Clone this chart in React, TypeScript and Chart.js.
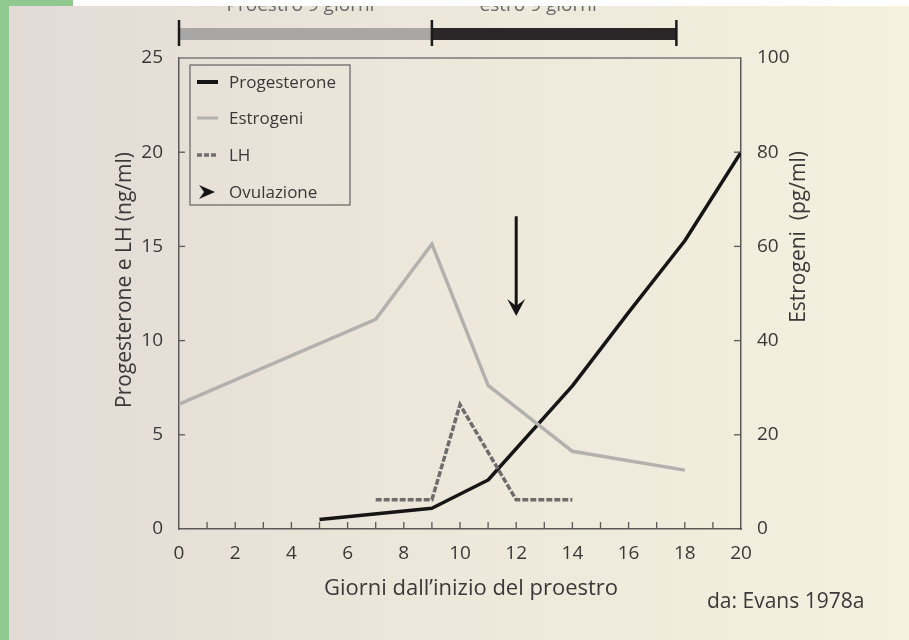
import React, { useEffect, useRef } from 'react';
import { Chart, registerables } from 'chart.js';

Chart.register(...registerables);

// ---- data ----
const PROG_DAYS = [5, 9, 11, 14, 16, 18, 20];
const PROG_VALUES = [0.5, 1.1, 2.6, 7.6, 11.5, 15.3, 20.0]; // ng/ml
const ESTR_DAYS = [0, 7, 9, 11, 14, 18];
const ESTR_VALUES = [26.5, 44.5, 60.5, 30.5, 16.5, 12.5]; // pg/ml
const LH_DAYS = [7, 9, 10, 12, 14];
const LH_VALUES = [1.55, 1.55, 6.6, 1.55, 1.55]; // ng/ml
const OVULATION_DAY = 12;
const OVULATION_FROM = 16.6; // ng/ml (arrow top)
const OVULATION_TO = 11.3; // ng/ml (arrow tip)
const PHASE_LABELS = ['Proestro 9 giorni', 'estro 9 giorni'];
const PHASE_START = [0, 9];
const PHASE_END = [9, 17.7];
const LEGEND_LABELS = ['Progesterone', 'Estrogeni', 'LH', 'Ovulazione'];
const X_TITLE = 'Giorni dall\u2019inizio del proestro';
const Y_TITLE = 'Progesterone e LH (ng/ml)';
const Y1_TITLE = 'Estrogeni  (pg/ml)';
const SOURCE = 'da: Evans 1978a';

const FONT = '"Open Sans", "Noto Sans", sans-serif';
const C_PROG = '#151515';
const C_ESTR = '#b3b1ae';
const C_LH = '#6e6c6c';
const C_TEXT = '#3a3838';
const C_AXIS = '#5a5858';

function toPoints(xs: number[], ys: number[]) {
  return xs.map((x, i) => ({ x, y: ys[i] }));
}

function drawArrowHead(ctx: CanvasRenderingContext2D, tipX: number, tipY: number, dir: 'down' | 'right', len: number, half: number, notch: number) {
  ctx.beginPath();
  if (dir === 'down') {
    ctx.moveTo(tipX, tipY);
    ctx.lineTo(tipX - half, tipY - len);
    ctx.lineTo(tipX, tipY - len + notch);
    ctx.lineTo(tipX + half, tipY - len);
  } else {
    ctx.moveTo(tipX, tipY);
    ctx.lineTo(tipX - len, tipY - half);
    ctx.lineTo(tipX - len + notch, tipY);
    ctx.lineTo(tipX - len, tipY + half);
  }
  ctx.closePath();
  ctx.fill();
}

const paperPlugin = {
  id: 'paper',
  beforeDraw(chart: any) {
    const { ctx, width, height } = chart;
    const xs = chart.scales.x;
    ctx.save();
    const g = ctx.createLinearGradient(0, 0, width, 0);
    g.addColorStop(0, '#e2dad5');
    g.addColorStop(0.45, '#ece7da');
    g.addColorStop(1, '#f4f1df');
    ctx.fillStyle = g;
    ctx.fillRect(0, 0, width, height);

    // phase bars on top
    const barTop = 28;
    const barH = 12;
    for (let i = 0; i < PHASE_LABELS.length; i++) {
      const x0 = xs.getPixelForValue(PHASE_START[i]);
      const x1 = xs.getPixelForValue(PHASE_END[i]);
      ctx.fillStyle = i === 0 ? '#a9a7a6' : '#2b2729';
      ctx.fillRect(x0, barTop, x1 - x0, barH);
      ctx.fillStyle = '#6a6868';
      ctx.font = `19px ${FONT}`;
      ctx.textAlign = 'center';
      ctx.textBaseline = 'alphabetic';
      ctx.fillText(PHASE_LABELS[i], (x0 + x1) / 2 + (i === 0 ? -5 : -16), 11);
    }
    ctx.strokeStyle = '#1a1a1a';
    ctx.lineWidth = 2.5;
    const caps = [PHASE_START[0], PHASE_START[1], PHASE_END[1]];
    for (const c of caps) {
      const x = xs.getPixelForValue(c);
      ctx.beginPath();
      ctx.moveTo(x, 20);
      ctx.lineTo(x, 46);
      ctx.stroke();
    }

    // page borders of the photo
    ctx.fillStyle = '#ffffff';
    ctx.fillRect(73, 0, width - 73, 6);
    ctx.fillStyle = '#8fc98f';
    ctx.fillRect(0, 0, 73, 6);
    ctx.fillRect(0, 0, 9, height);
    ctx.restore();
  },
  afterDraw(chart: any) {
    const { ctx, chartArea } = chart;
    const xs = chart.scales.x;
    const ys = chart.scales.y;
    const y1 = chart.scales.y1;
    ctx.save();
    // top frame line
    ctx.strokeStyle = '#7a7878';
    ctx.lineWidth = 1.5;
    ctx.beginPath();
    ctx.moveTo(chartArea.left, chartArea.top);
    ctx.lineTo(chartArea.right, chartArea.top);
    ctx.stroke();

    // inward tick marks
    ctx.strokeStyle = C_AXIS;
    ctx.lineWidth = 1.3;
    for (const t of xs.ticks) {
      if (t.value <= xs.min || t.value >= xs.max) continue;
      const px = xs.getPixelForValue(t.value);
      ctx.beginPath();
      ctx.moveTo(px, chartArea.bottom);
      ctx.lineTo(px, chartArea.bottom - 7);
      ctx.stroke();
    }
    for (const t of ys.ticks) {
      if (t.value <= ys.min || t.value >= ys.max) continue;
      const py = ys.getPixelForValue(t.value);
      ctx.beginPath();
      ctx.moveTo(chartArea.left, py);
      ctx.lineTo(chartArea.left + 6, py);
      ctx.stroke();
    }
    for (const t of y1.ticks) {
      if (t.value <= y1.min || t.value >= y1.max) continue;
      const py = y1.getPixelForValue(t.value);
      ctx.beginPath();
      ctx.moveTo(chartArea.right, py);
      ctx.lineTo(chartArea.right - 7, py);
      ctx.stroke();
    }

    // ovulation arrow
    const ax = xs.getPixelForValue(OVULATION_DAY);
    const aTop = ys.getPixelForValue(OVULATION_FROM);
    const aTip = ys.getPixelForValue(OVULATION_TO);
    ctx.strokeStyle = '#151515';
    ctx.fillStyle = '#151515';
    ctx.lineWidth = 3;
    ctx.beginPath();
    ctx.moveTo(ax, aTop);
    ctx.lineTo(ax, aTip - 10);
    ctx.stroke();
    drawArrowHead(ctx, ax, aTip, 'down', 17, 9, 7);

    // legend box
    const lx = 190, ly = 65, lw = 160, lh = 140;
    ctx.strokeStyle = '#6e6c6c';
    ctx.lineWidth = 1.3;
    ctx.strokeRect(lx, ly, lw, lh);
    const rows = [82, 118, 155, 192];
    ctx.font = `17px ${FONT}`;
    ctx.textAlign = 'left';
    ctx.textBaseline = 'middle';
    for (let i = 0; i < LEGEND_LABELS.length; i++) {
      const ry = rows[i];
      ctx.setLineDash([]);
      if (i === 0) {
        ctx.strokeStyle = C_PROG; ctx.lineWidth = 4;
        ctx.beginPath(); ctx.moveTo(197, ry); ctx.lineTo(218, ry); ctx.stroke();
      } else if (i === 1) {
        ctx.strokeStyle = C_ESTR; ctx.lineWidth = 3;
        ctx.beginPath(); ctx.moveTo(197, ry); ctx.lineTo(218, ry); ctx.stroke();
      } else if (i === 2) {
        ctx.strokeStyle = C_LH; ctx.lineWidth = 3.5; ctx.setLineDash([5, 2]);
        ctx.beginPath(); ctx.moveTo(197, ry); ctx.lineTo(218, ry); ctx.stroke();
        ctx.setLineDash([]);
      } else {
        ctx.fillStyle = '#151515';
        drawArrowHead(ctx, 215, ry, 'right', 16, 7, 5);
      }
      ctx.fillStyle = C_TEXT;
      ctx.fillText(LEGEND_LABELS[i], 229, ry + 1);
    }

    // axis titles and source
    ctx.fillStyle = C_TEXT;
    ctx.font = `21px ${FONT}`;
    ctx.textAlign = 'center';
    ctx.textBaseline = 'middle';
    ctx.save();
    ctx.translate(125, 280);
    ctx.rotate(-Math.PI / 2);
    ctx.fillText(Y_TITLE, 0, 0);
    ctx.restore();
    ctx.save();
    ctx.translate(799, 237);
    ctx.rotate(-Math.PI / 2);
    ctx.fillText(Y1_TITLE, 0, 0);
    ctx.restore();
    ctx.font = `22px ${FONT}`;
    ctx.fillText(X_TITLE, 471, 589);
    ctx.font = `21px ${FONT}`;
    ctx.textAlign = 'left';
    ctx.fillText(SOURCE, 707, 602);
    ctx.restore();
  },
};

export default function App() {
  const ref = useRef<HTMLCanvasElement | null>(null);

  useEffect(() => {
    document.body.style.margin = '0';
    const canvas = ref.current;
    if (!canvas) return;
    const chart = new Chart(canvas, {
      type: 'line',
      data: {
        datasets: [
          {
            label: LEGEND_LABELS[1],
            data: toPoints(ESTR_DAYS, ESTR_VALUES),
            yAxisID: 'y1',
            borderColor: C_ESTR,
            borderWidth: 3.5,
            pointRadius: 0,
            tension: 0,
          },
          {
            label: LEGEND_LABELS[2],
            data: toPoints(LH_DAYS, LH_VALUES),
            yAxisID: 'y',
            borderColor: C_LH,
            borderWidth: 3.5,
            borderDash: [6, 2],
            pointRadius: 0,
            tension: 0,
          },
          {
            label: LEGEND_LABELS[0],
            data: toPoints(PROG_DAYS, PROG_VALUES),
            yAxisID: 'y',
            borderColor: C_PROG,
            borderWidth: 3.5,
            pointRadius: 0,
            tension: 0,
            borderJoinStyle: 'round',
          },
        ],
      },
      options: {
        responsive: false,
        animation: false,
        layout: { padding: { top: 58, left: 0, right: 0, bottom: 0 } },
        plugins: { legend: { display: false }, tooltip: { enabled: false } },
        scales: {
          x: {
            type: 'linear',
            min: 0,
            max: 20,
            afterFit: (s: any) => { s.height = 111; },
            grid: { drawOnChartArea: false, drawTicks: false },
            border: { display: true, color: C_AXIS, width: 1.5 },
            ticks: {
              stepSize: 1,
              autoSkip: false,
              maxRotation: 0,
              padding: 13,
              color: C_TEXT,
              font: { family: FONT, size: 19 },
              callback: (v: any) => (Number(v) % 2 === 0 ? String(v) : ''),
            },
          },
          y: {
            position: 'left',
            min: 0,
            max: 25,
            afterFit: (s: any) => { s.width = 179; },
            grid: { drawOnChartArea: false, drawTicks: false },
            border: { display: true, color: C_AXIS, width: 1.5 },
            ticks: { stepSize: 5, padding: 16, color: C_TEXT, font: { family: FONT, size: 19 } },
          },
          y1: {
            position: 'right',
            min: 0,
            max: 100,
            afterFit: (s: any) => { s.width = 168; },
            grid: { drawOnChartArea: false, drawTicks: false },
            border: { display: true, color: C_AXIS, width: 1.5 },
            ticks: { stepSize: 20, padding: 16, color: C_TEXT, font: { family: FONT, size: 19 } },
          },
        },
      },
      plugins: [paperPlugin],
    });
    return () => chart.destroy();
  }, []);

  return (
    <div style={{ width: 909, height: 640 }}>
      <canvas ref={ref} width={909} height={640} style={{ display: 'block' }} />
    </div>
  );
}
